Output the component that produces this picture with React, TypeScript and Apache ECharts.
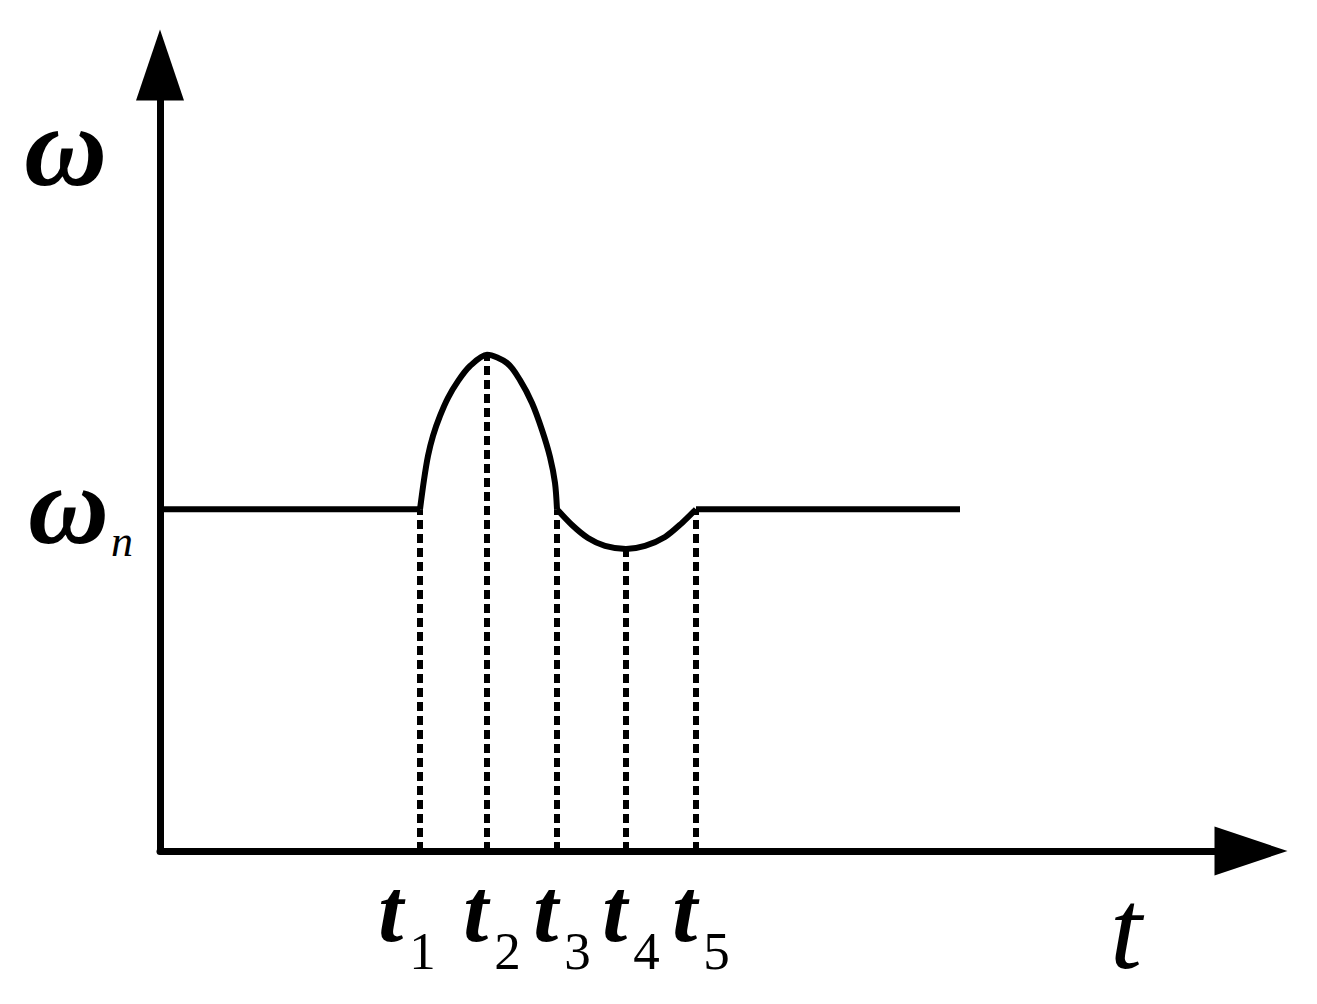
import React, { useEffect, useRef } from "react";
import * as echarts from "echarts";

// x in time units (t), y normalised so that ωn = 1
const X_MAX = 10.91;
const Y_MAX = 2.3;
const tTicks = [2.6, 3.27, 3.97, 4.66, 5.36];
const tNames = ["1", "2", "3", "4", "5"];
const omegaN = 1.0;

const flatLeft = [[0, 1.0], [2.6, 1.0]];
const hump = [
  [2.6, 1.0], [2.64, 1.086], [2.68, 1.156], [2.73, 1.215], [2.8, 1.273],
  [2.88, 1.326], [2.98, 1.375], [3.1, 1.419], [3.27, 1.452], [3.47, 1.428],
  [3.6, 1.378], [3.72, 1.311], [3.82, 1.232], [3.9, 1.153], [3.95, 1.077],
  [3.97, 1.0],
];
const dip = [
  [3.97, 1.0], [4.12, 0.954], [4.28, 0.916], [4.45, 0.893], [4.66, 0.884],
  [4.85, 0.893], [5.05, 0.919], [5.22, 0.96], [5.36, 1.0],
];
const flatRight = [[5.36, 1.0], [8.0, 1.0]];
const dropValues = [1.0, 1.452, 1.0, 0.884, 1.0];

const SERIF = "'Liberation Serif', 'Times New Roman', serif";

export default function App() {
  const ref = useRef<HTMLDivElement>(null);
  useEffect(() => {
    document.body.style.margin = "0";
    const chart = echarts.init(ref.current!, null, { renderer: "svg" });
    const lineStyle = { color: "#000", width: 6 };
    const seg = (data: number[][]) => ({
      type: "line",
      data,
      smooth: 0.3,
      symbol: "none",
      lineStyle,
      z: 3,
    });
    const tRich = {
      fontFamily: SERIF,
      fontStyle: "italic",
      fontWeight: "bold",
      fontSize: 90,
      color: "#000",
      lineHeight: 100,
      verticalAlign: "top",
    };
    const sRich = {
      fontFamily: SERIF,
      fontSize: 53,
      color: "#000",
      lineHeight: 40,
      verticalAlign: "top",
      padding: [59, 0, 0, 6],
    };
    const labelFor = (v: number) => {
      const i = tTicks.findIndex((t) => Math.abs(t - v) < 1e-6);
      return i < 0 ? "" : `{t|t}{s|${tNames[i]}}`;
    };
    const baseX = {
      type: "value",
      min: 0,
      max: X_MAX,
      position: "bottom",
      splitLine: { show: false },
      axisTick: { show: false },
    };
    chart.setOption({
      animation: false,
      backgroundColor: "#fff",
      grid: { left: 160, top: 65, width: 1091, height: 786 },
      xAxis: [
        {
          ...baseX,
          axisLine: {
            lineStyle: { color: "#000", width: 7 },
            symbol: ["none", "triangle"],
            symbolSize: [49, 73],
          },
          axisLabel: {
            customValues: tTicks.slice(1),
            hideOverlap: false,
            showMinLabel: true,
            showMaxLabel: true,
            margin: 14,
            padding: [0, 0, 0, 10],
            formatter: labelFor,
            rich: { t: tRich, s: sRich },
          },
        },
        {
          ...baseX,
          axisLine: { show: false },
          axisLabel: {
            customValues: tTicks.slice(0, 1),
            hideOverlap: false,
            showMinLabel: true,
            showMaxLabel: true,
            margin: 14,
            padding: [0, 0, 0, 10],
            formatter: labelFor,
            rich: { t: tRich, s: { ...sRich, padding: [59, 36, 0, 6] } },
          },
        },
      ],
      yAxis: {
        type: "value",
        min: 0,
        max: Y_MAX,
        splitLine: { show: false },
        axisTick: { show: false },
        axisLine: {
          lineStyle: { color: "#000", width: 7 },
          symbol: ["none", "triangle"],
          symbolSize: [48, 71],
        },
        axisLabel: {
          customValues: [omegaN],
          hideOverlap: false,
          showMinLabel: true,
          margin: 27,
          formatter: () => "{w|ω}{n|n}",
          rich: {
            w: {
              fontFamily: SERIF,
              fontStyle: "italic",
              fontWeight: "bold",
              fontSize: 112,
              color: "#000",
              lineHeight: 120,
              verticalAlign: "top",
            },
            n: {
              fontFamily: SERIF,
              fontStyle: "italic",
              fontSize: 44,
              color: "#000",
              lineHeight: 40,
              verticalAlign: "top",
              padding: [70, 0, 0, 2],
            },
          },
        },
      },
      graphic: [
        {
          type: "text",
          left: 24,
          top: 89,
          style: {
            text: "ω",
            fontFamily: SERIF,
            fontStyle: "italic",
            fontWeight: "bold",
            fontSize: 115,
            fill: "#000",
          },
        },
        {
          type: "text",
          left: 1110,
          top: 872,
          style: {
            text: "t",
            fontFamily: SERIF,
            fontStyle: "italic",
            fontSize: 115,
            fill: "#000",
          },
        },
      ],
      series: [
        seg(flatLeft),
        seg(hump),
        seg(dip),
        seg(flatRight),
        {
          type: "line",
          data: [],
          symbol: "none",
          markLine: {
            silent: true,
            symbol: ["none", "none"],
            label: { show: false },
            emphasis: { disabled: true },
            lineStyle: { color: "#000", width: 6, type: [9, 5] },
            data: tTicks.map((t, i) => [
              { coord: [t, 0] },
              { coord: [t, dropValues[i]] },
            ]),
          },
        },
      ],
    });
    return () => chart.dispose();
  }, []);
  return <div ref={ref} style={{ width: 1317, height: 1004 }} />;
}
